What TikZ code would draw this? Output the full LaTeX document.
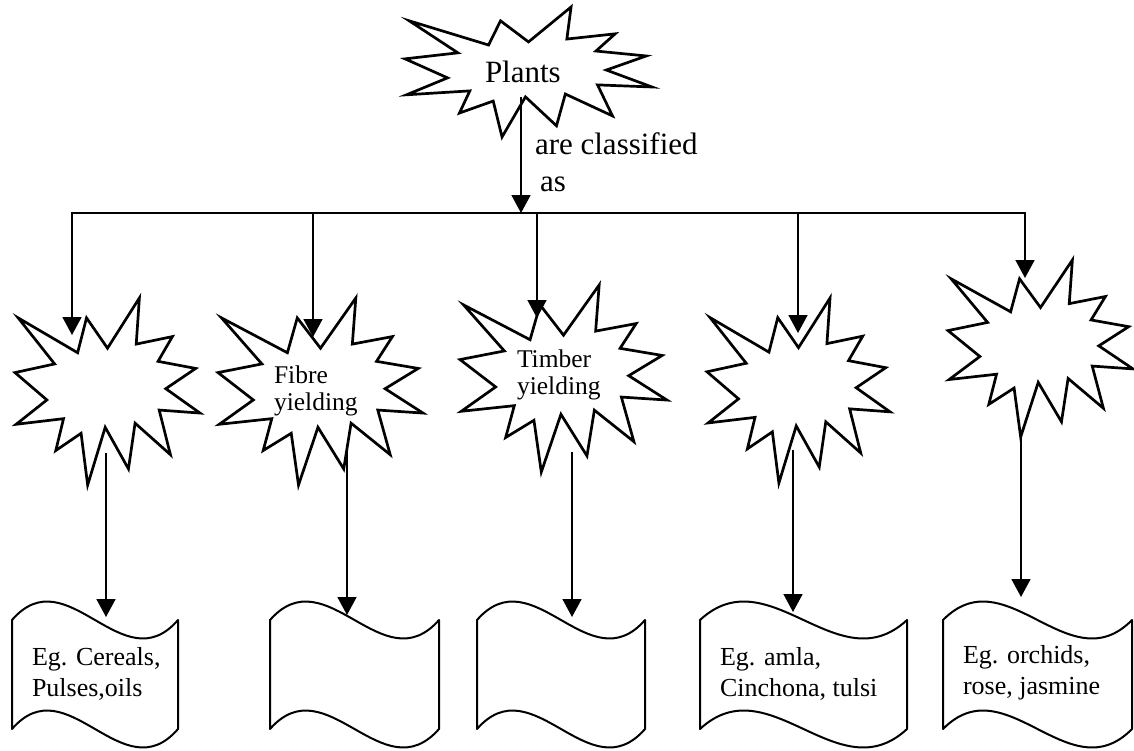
\documentclass[tikz,border=0pt]{standalone}
\usepackage{fontspec}
\setmainfont{Liberation Serif}
\usetikzlibrary{arrows.meta}

% Irregular "explosion" outline, drawn in a 100 x 100 frame
% #1,#2 = top-left corner, #3 = width, #4 = height
\newcommand{\sealshape}[4]{%
  \draw[sealline, shift={(#1,#2)}, xscale=#3/100, yscale=#4/100]
    (50,26.85) -- (67.23,0) -- (65.53,24.65) -- (85.09,20.63) -- (77.32,33.87)
    -- (97.67,37.67) -- (81.51,48.50) -- (100,61.53) -- (77.95,59.92)
    -- (84.00,83.77) -- (64.91,66.93) -- (61.33,91.38) -- (48.76,69.14)
    -- (39.28,100) -- (35.72,72.35) -- (22.05,81.56) -- (26.24,64.52)
    -- (0.63,67.53) -- (17.23,54.51) -- (0,39.88) -- (21.42,35.26)
    -- (1.71,10.63) -- (33.85,29.26) -- (38.67,10.63) -- cycle;}

% Wavy banner: #1 left, #2 right, #3 top corners, #4 bottom corners
\newcommand{\wavebox}[4]{%
  \draw[waveline] (#1,#3)
    .. controls ({#1+(#2-#1)/3},{#3-64}) and ({#1+2*(#2-#1)/3},{#3+64}) .. (#2,#3)
    -- (#2,#4)
    .. controls ({#1+2*(#2-#1)/3},{#4+64}) and ({#1+(#2-#1)/3},{#4-64}) .. (#1,#4)
    -- cycle;}

\tikzset{
  sealline/.style={draw=black, line width=2.7pt, line join=miter, miter limit=20},
  waveline/.style={draw=black, line width=2pt, line join=round},
  link/.style={draw=black, line width=1.7pt},
  arrowlink/.style={link, -{Triangle[width=19pt,length=18pt]}},
  every node/.style={inner sep=0pt, outer sep=0pt, text=black},
  bigtext/.style={font=\fontsize{31}{37}\selectfont, anchor=base west},
  startext/.style={font=\fontsize{25.5}{27}\selectfont, anchor=base west},
  boxtext/.style={font=\fontsize{26}{31}\selectfont, anchor=base west},
}

\begin{document}
\begin{tikzpicture}[x=1pt, y=-1pt]
\useasboundingbox (0,0) rectangle (1134,750);

% explosion shapes
\sealshape{405}{7}{247}{130}
\sealshape{15}{298}{185}{187}
\sealshape{218}{298}{205}{187}
\sealshape{460}{285}{207}{187}
\sealshape{707}{298}{183}{185}
\sealshape{948}{260}{185}{177}

% banners
\wavebox{12}{178}{620}{729}
\wavebox{270}{439}{620}{729}
\wavebox{477}{645}{620}{729}
\wavebox{700}{907}{620}{729}
\wavebox{943}{1132}{620}{729}

% texts
\node[bigtext] (plants) at (485,82) {Plants};
\node[bigtext] (classlbl) at (535,154)
  {\begin{tabular}[t]{@{}l@{}}are classified\\\hspace*{5pt}as\end{tabular}};
\node[startext] (fibre) at (274,383)
  {\begin{tabular}[t]{@{}l@{}}Fibre\\yielding\end{tabular}};
\node[startext] (timber) at (517,367)
  {\begin{tabular}[t]{@{}l@{}}Timber\\yielding\end{tabular}};
\node[boxtext] (food) at (32,665)
  {\begin{tabular}[t]{@{}l@{}}Eg. Cereals,\\Pulses,oils\end{tabular}};
\node[boxtext] (medicinal) at (720,665)
  {\begin{tabular}[t]{@{}l@{}}Eg. amla,\\Cinchona, tulsi\end{tabular}};
\node[boxtext] (ornamental) at (963,663)
  {\begin{tabular}[t]{@{}l@{}}Eg. orchids,\\rose, jasmine\end{tabular}};

% connector end points
\coordinate (s0out) at (521,97);
\coordinate (hub) at (521,213);
\coordinate (d1) at (72,213);
\coordinate (d2) at (313,213);
\coordinate (d3) at (537,213);
\coordinate (d4) at (798,213);
\coordinate (d5) at (1025,213);
\coordinate (s1in) at (72,335);
\coordinate (s2in) at (313,337);
\coordinate (s3in) at (537,318);
\coordinate (s4in) at (798,333);
\coordinate (s5in) at (1025,278);
\coordinate (s1out) at (106,453);
\coordinate (s2out) at (347,450);
\coordinate (s3out) at (572,452);
\coordinate (s4out) at (793,450);
\coordinate (s5out) at (1021,432);
\coordinate (b1in) at (106,617);
\coordinate (b2in) at (347,615);
\coordinate (b3in) at (572,617);
\coordinate (b4in) at (793,612);
\coordinate (b5in) at (1021,597);

% connectors
\draw[arrowlink] (s0out) -- (hub);
\draw[link, line cap=rect] (d1) -- (d5);
\foreach \i in {1,...,5} {
  \draw[arrowlink] (d\i) -- (s\i in);
  \draw[arrowlink] (s\i out) -- (b\i in);
}
\end{tikzpicture}
\end{document}
